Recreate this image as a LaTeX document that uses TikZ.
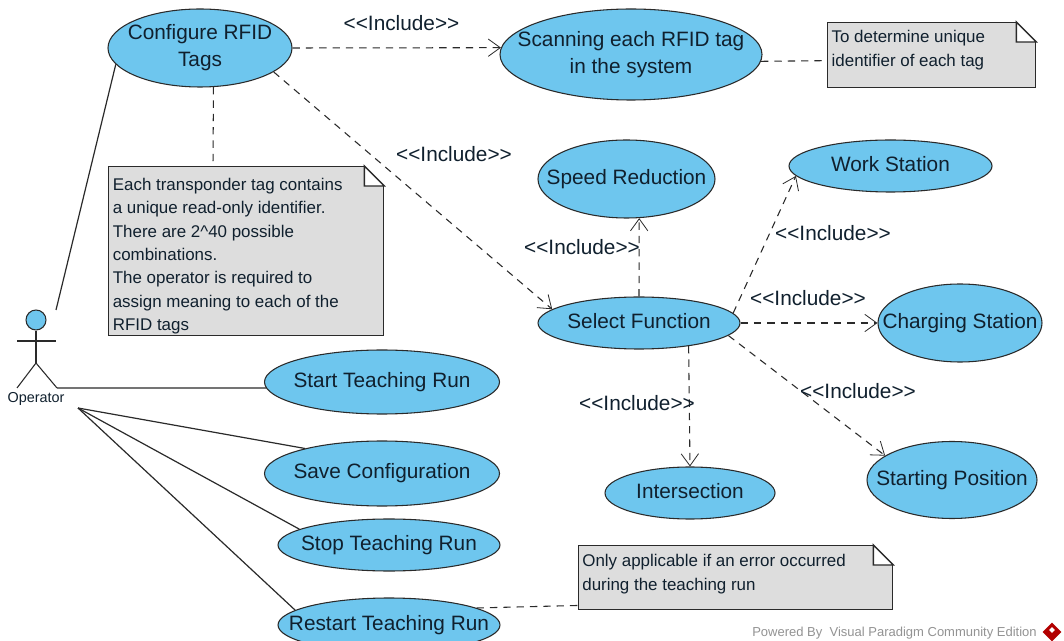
\documentclass[tikz,border=0pt]{standalone}
\usepackage{fontspec}
\setmainfont{Liberation Sans}
\usetikzlibrary{arrows.meta,calc,shapes.geometric}
\definecolor{ucblue}{HTML}{6EC6EE}
\definecolor{notegray}{HTML}{DDDDDD}
\definecolor{linedark}{HTML}{2A2A2A}
\definecolor{uctext}{HTML}{10202E}
\newcommand{\notefold}[1]{%
  \fill[white] ($(#1.north east)+(-20,-3)$) rectangle ($(#1.north east)+(3,20)$);
  \draw[noteline] ($(#1.north east)+(-20,0)$) -- ($(#1.north east)+(0,20)$) -- ($(#1.north east)+(-20,20)$) -- cycle;}
\newcommand{\notetext}[5]{\parbox[c][#2][t]{#1}{\fontsize{12.7}{#3}\selectfont\vspace*{#4}#5}}
\newcommand{\uct}[1]{\makebox[0pt]{\begin{tabular}{@{}c@{}}#1\end{tabular}}}
\newcommand{\inclabel}{<{}<Include>{}>}
\begin{document}
\begin{tikzpicture}[x=0.75pt,y=-0.75pt,
  uc/.style={ellipse,draw=linedark,line width=0.8pt,fill=ucblue,inner sep=0pt,text=uctext,font=\fontsize{15.6}{20}\selectfont},
  notebox/.style={rectangle,draw=linedark,line width=1pt,fill=notegray,anchor=north west,inner xsep=2.5pt,inner ysep=0pt,align=left,text=uctext},
  noteline/.style={draw=linedark,line width=1pt,line join=miter},
  assoc/.style={draw=linedark,line width=0.9pt},
  notelink/.style={draw=linedark,line width=0.8pt,dash pattern=on 5.5pt off 4.5pt},
  incl/.style={draw=linedark,line width=0.8pt,dash pattern=on 5.5pt off 4.5pt,-{Straight Barb[length=9pt,width=13pt,line width=0.6pt]}},
  lbl/.style={inner sep=0pt,text=uctext,font=\fontsize{15.6}{20}\selectfont},
  actorline/.style={draw=linedark,line width=0.8pt}]
\clip (0,0) rectangle (1064,641);
\fill[white] (0,0) rectangle (1064,641);

% use cases
\node[uc,minimum width=184*0.75pt,minimum height=78*0.75pt] (cfg) at (200,48) {\uct{Configure RFID\\Tags}};
\node[uc,minimum width=262*0.75pt,minimum height=91*0.75pt] (scan) at (631,54.5) {\uct{Scanning each RFID tag\\in the system}};
\node[uc,minimum width=177*0.75pt,minimum height=78*0.75pt] (speed) at (626.5,179) {\uct{Speed Reduction}};
\node[uc,minimum width=203*0.75pt,minimum height=52*0.75pt] (work) at (890.5,166) {\uct{Work Station}};
\node[uc,minimum width=202*0.75pt,minimum height=52*0.75pt] (sel) at (639,323) {\uct{Select Function}};
\node[uc,minimum width=164*0.75pt,minimum height=78*0.75pt] (chg) at (960,323) {\uct{Charging Station}};
\node[uc,minimum width=170*0.75pt,minimum height=52*0.75pt] (inter) at (690,493) {\uct{Intersection}};
\node[uc,minimum width=170*0.75pt,minimum height=77*0.75pt] (startpos) at (952,480) {\uct{Starting Position}};
\node[uc,minimum width=235*0.75pt,minimum height=64*0.75pt] (start) at (382,382) {\uct{Start Teaching Run}};
\node[uc,minimum width=235*0.75pt,minimum height=65*0.75pt] (save) at (382,473.5) {\uct{Save Configuration}};
\node[uc,minimum width=222*0.75pt,minimum height=52*0.75pt] (stop) at (389,545) {\uct{Stop Teaching Run}};
\node[uc,minimum width=222*0.75pt,minimum height=54*0.75pt] (restart) at (389,625) {\uct{Restart Teaching Run}};

% notes
\node[notebox,minimum width=275*0.75pt,minimum height=169*0.75pt] (n1) at (108,166)
  {\notetext{200pt}{126.5pt}{17.5pt}{8.5pt}{Each transponder tag contains\\a unique read-only identifier.\\There are 2\textasciicircum 40 possible\\combinations.\\The operator is required to\\assign meaning to each of the\\RFID tags}};
\node[notebox,minimum width=208*0.75pt,minimum height=65*0.75pt] (n2) at (827,22)
  {\notetext{150pt}{48.75pt}{18pt}{6pt}{To determine unique\\identifier of each tag}};
\node[notebox,minimum width=314*0.75pt,minimum height=64*0.75pt] (n3) at (578,545)
  {\notetext{230pt}{48pt}{18pt}{6.5pt}{Only applicable if an error occurred\\during the teaching run}};
\notefold{n1}
\notefold{n2}
\notefold{n3}

% actor
\node[circle,draw=linedark,line width=0.8pt,fill=ucblue,minimum size=20*0.75pt,inner sep=0pt] (head) at (36,320) {};
\coordinate (hip) at (36,363);
\coordinate (armL) at (17,341);
\coordinate (armR) at (56,341);
\coordinate (legL) at (17,388);
\coordinate (legR) at (57,388);
\draw[actorline] (head) -- (hip);
\draw[actorline] (armL) -- (armR);
\draw[actorline] (legL) -- (hip) -- (legR);
\node[inner sep=0pt,text=uctext,font=\fontsize{10.8}{12}\selectfont] (oplabel) at (36,399) {Operator};
\coordinate (opA) at (56,310);
\coordinate (opB) at (78,408);

% associations
\draw[assoc] (opA) -- (cfg.191);
\draw[assoc] (legR) -- (start.183);
\draw[assoc] (opB) -- (save.162);
\draw[assoc] (opB) -- (stop.170.7);
\draw[assoc] (opB) -- (restart.171);

% note links
\draw[notelink] (cfg.-71.4) -- (n1.south west |- n1.north -| 213,165);
\draw[notelink] (scan.-3) -- (n2.183.6);
\draw[notelink] (restart.11.5) -- (n3.190.8);

% includes
\draw[incl] (cfg.east) -- (scan.177);
\draw[incl] (cfg.-18.4) -- (sel.171.5);
\draw[incl] (sel.north) -- (speed.-72);
\draw[incl] (sel.6.7) -- (work.186.8);
\draw[incl] (sel.east) -- (chg.west);
\draw[incl] (sel.-25) -- (inter.north);
\draw[incl] (sel.-8.5) -- (startpos.160.3);

% labels
\node[lbl] (l1) at (401.5,23) {\inclabel};
\node[lbl] (l2) at (454,154) {\inclabel};
\node[lbl] (l3) at (582,247) {\inclabel};
\node[lbl] (l4) at (833,233) {\inclabel};
\node[lbl] (l5) at (808,298) {\inclabel};
\node[lbl] (l6) at (858,391) {\inclabel};
\node[lbl] (l7) at (637,403) {\inclabel};

% watermark
\node[inner sep=0pt,text=gray!85,font=\fontsize{9.75}{11}\selectfont,anchor=east] (wm) at (1037,633) {Powered By\ \ Visual Paradigm Community Edition};
\node[diamond,fill=red!70!black,minimum size=19*0.75pt,inner sep=0pt] (logo) at (1052,632) {};
\node[diamond,fill=white,minimum size=6*0.75pt,inner sep=0pt] (logoc) at (1052,630) {};
\end{tikzpicture}
\end{document}
